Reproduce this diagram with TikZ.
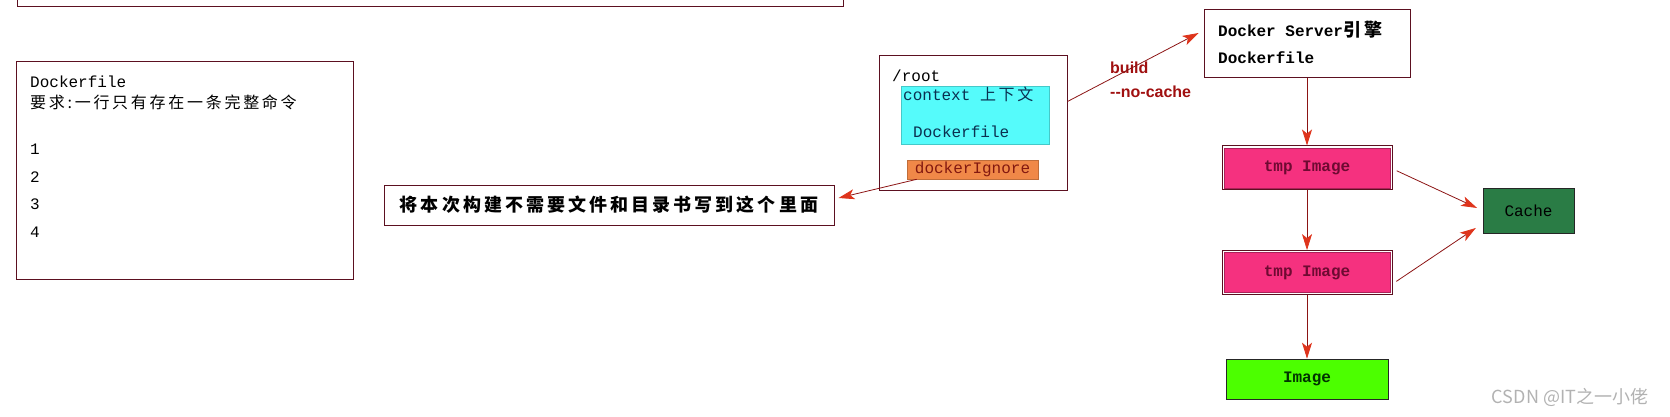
\documentclass[tikz,border=0pt]{standalone}
\usepackage{fontspec}
\setmainfont{Liberation Mono}
\newfontfamily\cjk[LetterSpace=17]{Noto Sans CJK SC}
\newfontfamily\wmfont{Noto Sans CJK SC}
\newfontfamily\lblfont{Liberation Sans}
\usetikzlibrary{arrows.meta, positioning}
\definecolor{framered}{RGB}{92,16,32}
\definecolor{arrowred}{RGB}{222,52,28}
\definecolor{linered}{RGB}{140,20,20}
\definecolor{tmppink}{RGB}{245,49,127}
\definecolor{tmptext}{RGB}{110,10,50}
\definecolor{ctxcyan}{RGB}{85,251,251}
\definecolor{ctxtext}{RGB}{10,48,80}
\definecolor{ignoreorange}{RGB}{240,136,72}
\definecolor{ignoretext}{RGB}{130,24,16}
\definecolor{imagegreen}{RGB}{76,255,0}
\definecolor{cachegreen}{RGB}{42,124,69}
\definecolor{buildred}{RGB}{160,16,16}

\begin{document}
\begin{tikzpicture}[x=1pt, y=-1pt,
		frame/.style={rectangle, draw=framered, line width=1pt, fill=white, inner sep=0pt},
		tmpbox/.style={rectangle, preaction={draw=framered, line width=5pt}, preaction={draw=white, line width=3pt},
			fill=tmppink, draw=tmppink!70!black, line width=0.6pt,
			minimum width=166pt, minimum height=40pt, text=tmptext, font=\fontsize{16}{18}\selectfont\bfseries},
		txt/.style={anchor=west, inner sep=0pt, font=\fontsize{16}{18}\selectfont},
		arrow/.style={-{Stealth[length=16pt, width=10pt, inset=4pt, color=arrowred]}, draw=linered, line width=0.8pt}
		]
		\clip (0,0) rectangle (1670,416);

		% left part
		\node[frame, anchor=south west, minimum width=826pt, minimum height=40pt] (topbox) at (17,7) {};
		\node[frame, minimum width=337pt, minimum height=218pt] (dfbox) at (184.5,170) {};
		\node[txt] (dftitle) at (30,82) {Dockerfile};
		\node[txt] (dfrule) at (30,102) {\cjk 要求:一行只有存在一条完整命令};
		\foreach \n/\y in {1/149, 2/177, 3/204, 4/232}
			\node[txt] (num\n) at (30,\y) {\n};

		% build context
		\node[frame, minimum width=188pt, minimum height=135pt] (rootbox) at (973,122.5) {};
		\node[txt] (rootlbl) at (892,76) {/root};
		\node[rectangle, fill=ctxcyan, draw=ctxcyan!80!black, line width=0.6pt,
			minimum width=148pt, minimum height=58pt] (ctxbox) at (975,115) {};
		\node[txt, text=ctxtext] (ctxlbl) at (903,94) {context {\cjk 上下文}};
		\node[txt, text=ctxtext] (ctxfile) at (913,132) {Dockerfile};
		\node[rectangle, fill=ignoreorange, draw=ignoreorange!80!black, line width=0.6pt,
			minimum width=131pt, minimum height=19pt, inner sep=0pt, text=ignoretext,
			font=\fontsize{16}{18}\selectfont] (ignore) at (972.5,169.5) {dockerIgnore};
		\node[frame, minimum width=450pt, minimum height=40pt,
			font=\fontsize{18}{20}\selectfont\bfseries] (note) at (609,205) {\cjk 将本次构建不需要文件和目录书写到这个里面};

		% engine and layers
		\node[frame, minimum width=206pt, minimum height=68pt] (server) at (1307,43) {};
		\node[txt, font=\fontsize{16}{18}\selectfont\bfseries] (srvname) at (1218,30) {Docker Server{\cjk\fontsize{18}{20}\selectfont 引擎}};
		\node[txt, font=\fontsize{16}{18}\selectfont\bfseries] (srvfile) at (1218,58) {Dockerfile};
		\node[tmpbox, below=70pt of server] (tmp1) {tmp Image};
		\node[tmpbox, below=64pt of tmp1] (tmp2) {tmp Image};
		\node[rectangle, draw=black!85, line width=1pt, fill=imagegreen, minimum width=162pt, minimum height=40pt,
			text=black!80!green, font=\fontsize{16}{18}\selectfont\bfseries, below=66pt of tmp2] (image) {Image};
		\node[rectangle, draw=black!85, line width=1pt, fill=cachegreen, minimum width=91pt, minimum height=45pt,
			font=\fontsize{16}{18}\selectfont] (cache) at (1528.5,210.5) {Cache};

		\node[anchor=west, align=left, inner sep=0pt, text=buildred,
			font=\lblfont\fontsize{16}{24}\selectfont\bfseries] (buildlbl) at (1110,80) {build\\--no-cache};

		\draw[arrow] ([yshift=21pt]rootbox.east) -- ([xshift=-5pt,yshift=10pt]server.west);
		\draw[arrow] ([xshift=10pt]ignore.south west) -- ([xshift=4pt,yshift=7pt]note.east);
		\draw[arrow] (server.south) -- ([yshift=2pt]tmp1.north);
		\draw[arrow] ([yshift=-2pt]tmp1.south) -- ([yshift=2pt]tmp2.north);
		\draw[arrow] ([yshift=-2pt]tmp2.south) -- (image.north);
		\draw[arrow, shorten <=7pt, shorten >=6pt] (tmp1.east) -- (cache.west);
		\draw[arrow, shorten >=8pt] ([xshift=6pt,yshift=-9pt]tmp2.east) -- ([yshift=-13pt]cache.west);

		\node[text=black!30, font=\wmfont\fontsize{18}{20}\selectfont] (mark) at (1570,397) {CSDN @IT之一小佬};
	\end{tikzpicture}
\end{document}
